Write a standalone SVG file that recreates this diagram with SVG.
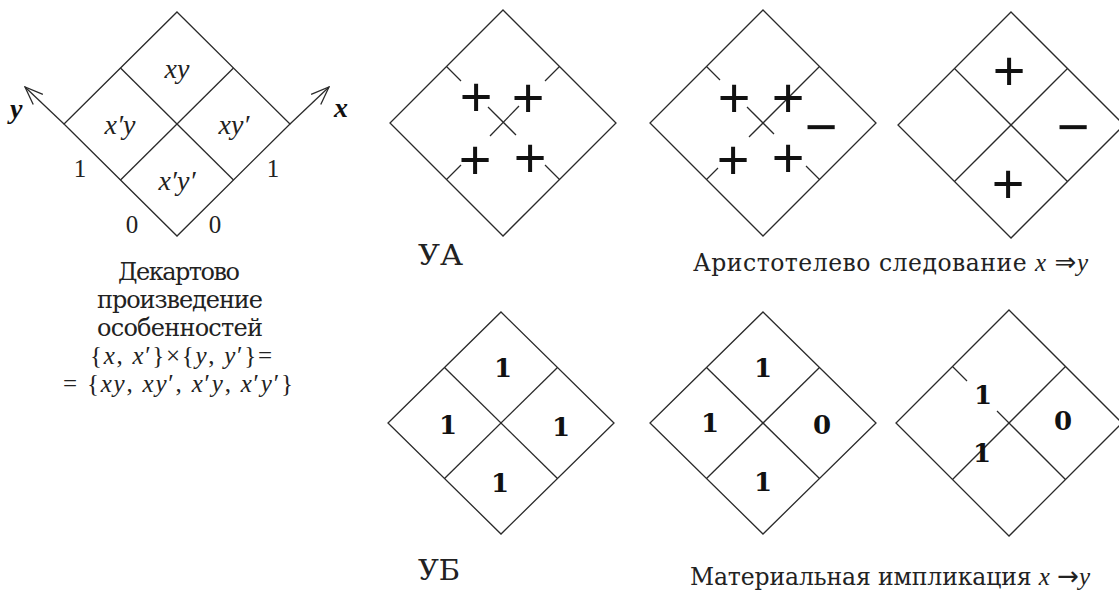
<svg xmlns="http://www.w3.org/2000/svg" width="1119" height="592" viewBox="0 0 1119 592">
<style>
.ln{stroke:#2a2a2a;stroke-width:1.3;fill:none}
.ar{stroke:#2a2a2a;stroke-width:1.3;fill:none;marker-end:url(#arr)}
.cell{font-family:"Liberation Serif","Times New Roman",serif;font-style:italic;font-size:28px;fill:#222;text-anchor:middle}
.num{font-family:"Liberation Serif","Times New Roman",serif;font-size:25px;fill:#222;text-anchor:middle}
.axis{font-family:"Liberation Serif","Times New Roman",serif;font-style:italic;font-weight:bold;font-size:28px;fill:#111}
.cap{font-family:"DejaVu Serif","Liberation Serif",serif;font-size:24px;fill:#222;text-anchor:middle}
.frm{font-family:"Liberation Serif","Times New Roman",serif;font-size:25px;fill:#222;text-anchor:middle}
.it{font-style:italic}
.pm{font-family:"Liberation Sans",Arial,sans-serif;font-size:56px;fill:#111;text-anchor:middle}
.b1{font-family:"DejaVu Serif","Liberation Serif",serif;font-weight:bold;font-size:26px;fill:#111;text-anchor:middle}
.lbl{font-family:"DejaVu Serif","Liberation Serif",serif;font-size:28px;fill:#222}
.sub{font-family:"DejaVu Serif","Liberation Serif",serif;font-size:23.5px;fill:#222}
.sym{font-family:"Liberation Serif","DejaVu Serif",serif;font-size:25px}
.arw{font-family:"DejaVu Sans","Liberation Serif",sans-serif;font-size:26px}
</style>
<defs>
<marker id="arr" viewBox="0 0 20 16" refX="19" refY="8" markerWidth="20" markerHeight="16" markerUnits="userSpaceOnUse" orient="auto">
<path d="M1,1 L19,8 L1,15" fill="none" stroke="#2a2a2a" stroke-width="1.3"/>
</marker>
</defs>
<rect width="1119" height="592" fill="#fff"/>

<g id="connectors">
<line class="ar" x1="64" y1="124" x2="25" y2="87"/>
<line class="ar" x1="290" y1="124" x2="329" y2="87"/>
</g>

<g id="cartesian">
<polygon class="ln" points="177,12 290,124 177,236 64,124"/>
<line class="ln" x1="120.5" y1="68" x2="233.5" y2="180"/>
<line class="ln" x1="233.5" y1="68" x2="120.5" y2="180"/>
<text class="cell" x="177" y="78">xy</text>
<text class="cell" x="120" y="134">x′y</text>
<text class="cell" x="234" y="134">xy′</text>
<text class="cell" x="177" y="190">x′y′</text>
<text class="num" x="80" y="177">1</text>
<text class="num" x="273" y="177">1</text>
<text class="num" x="132" y="233">0</text>
<text class="num" x="215" y="233">0</text>
<text class="axis" x="10" y="118">y</text>
<text class="axis" x="334" y="117">x</text>
<text class="cap" x="179" y="280" textLength="122" lengthAdjust="spacing">Декартово</text>
<text class="cap" x="180" y="308" textLength="166" lengthAdjust="spacing">произведение</text>
<text class="cap" x="180" y="336" textLength="166" lengthAdjust="spacing">особенностей</text>
<text class="frm" x="181" y="364" textLength="182" lengthAdjust="spacing">{<tspan class="it">x</tspan>, <tspan class="it">x</tspan>′}×{<tspan class="it">y</tspan>, <tspan class="it">y</tspan>′}=</text>
<text class="frm" x="178" y="392" textLength="230" lengthAdjust="spacing">= {<tspan class="it">xy</tspan>, <tspan class="it">xy</tspan>′, <tspan class="it">x</tspan>′<tspan class="it">y</tspan>, <tspan class="it">x</tspan>′<tspan class="it">y</tspan>′}</text>
</g>

<g id="ua">
<polygon class="ln" points="503,10 616,123 503,236 390,123"/>
<line class="ln" x1="446.5" y1="66.5" x2="461" y2="81"/>
<line class="ln" x1="559.5" y1="66.5" x2="545" y2="81"/>
<line class="ln" x1="446.5" y1="179.5" x2="461" y2="165"/>
<line class="ln" x1="559.5" y1="179.5" x2="545" y2="165"/>
<line class="ln" x1="488" y1="107" x2="516" y2="135"/>
<line class="ln" x1="519" y1="106" x2="490" y2="136"/>
<text class="pm" x="476" y="116">+</text>
<text class="pm" x="528" y="117">+</text>
<text class="pm" x="475" y="179">+</text>
<text class="pm" x="530" y="177">+</text>
<text class="lbl" x="418" y="265" textLength="45" lengthAdjust="spacingAndGlyphs">УА</text>
</g>

<g id="aristotle">
<polygon class="ln" points="763,10 876,123 763,236 650,123"/>
<line class="ln" x1="706.5" y1="66.5" x2="720" y2="80"/>
<line class="ln" x1="819.5" y1="66.5" x2="749" y2="137"/>
<line class="ln" x1="747" y1="107" x2="774" y2="134"/>
<line class="ln" x1="706.5" y1="179.5" x2="718" y2="168"/>
<line class="ln" x1="819.5" y1="179.5" x2="806" y2="166"/>
<text class="pm" x="734" y="117">+</text>
<text class="pm" x="788" y="117">+</text>
<text class="pm" x="733" y="179">+</text>
<text class="pm" x="788" y="177">+</text>
<text class="pm" x="821" y="146">−</text>
</g>

<g id="aristotle-result">
<polygon class="ln" points="1011,12 1124,125 1011,238 898,125"/>
<line class="ln" x1="954.5" y1="68.5" x2="1067.5" y2="181.5"/>
<line class="ln" x1="1067.5" y1="68.5" x2="954.5" y2="181.5"/>
<text class="pm" x="1009" y="90">+</text>
<text class="pm" x="1008" y="203">+</text>
<text class="pm" x="1073" y="146">−</text>
<text class="sub" x="693" y="271" textLength="395" lengthAdjust="spacing">Аристотелево следование <tspan class="sym it">x</tspan> <tspan class="arw">⇒</tspan><tspan class="sym it">y</tspan></text>
</g>

<g id="ub">
<polygon class="ln" points="501,312 614,423 501,534 388,423"/>
<line class="ln" x1="444.5" y1="367.5" x2="557.5" y2="478.5"/>
<line class="ln" x1="557.5" y1="367.5" x2="444.5" y2="478.5"/>
<text class="b1" x="503" y="377">1</text>
<text class="b1" x="448" y="434">1</text>
<text class="b1" x="561" y="436">1</text>
<text class="b1" x="500" y="492">1</text>
<text class="lbl" x="418" y="580" textLength="42" lengthAdjust="spacingAndGlyphs">УБ</text>
</g>

<g id="implication">
<polygon class="ln" points="763,312 876,423 763,534 650,423"/>
<line class="ln" x1="706.5" y1="367.5" x2="819.5" y2="478.5"/>
<line class="ln" x1="819.5" y1="367.5" x2="706.5" y2="478.5"/>
<text class="b1" x="763" y="377">1</text>
<text class="b1" x="710" y="432">1</text>
<text class="b1" x="822" y="434">0</text>
<text class="b1" x="763" y="491">1</text>
</g>

<g id="implication-result">
<polygon class="ln" points="1009,310 1122,423 1009,536 896,423"/>
<line class="ln" x1="1065.5" y1="366.5" x2="952.5" y2="479.5"/>
<line class="ln" x1="1009" y1="423" x2="1065.5" y2="479.5"/>
<line class="ln" x1="952.5" y1="366.5" x2="967" y2="381"/>
<line class="ln" x1="997" y1="411" x2="1009" y2="423"/>
<text class="b1" x="983" y="404">1</text>
<text class="b1" x="982" y="462">1</text>
<text class="b1" x="1063" y="430">0</text>
<text class="sub" x="690" y="585" textLength="400" lengthAdjust="spacing">Материальная импликация <tspan class="sym it">x</tspan> <tspan class="arw">→</tspan><tspan class="sym it">y</tspan></text>
</g>
</svg>
